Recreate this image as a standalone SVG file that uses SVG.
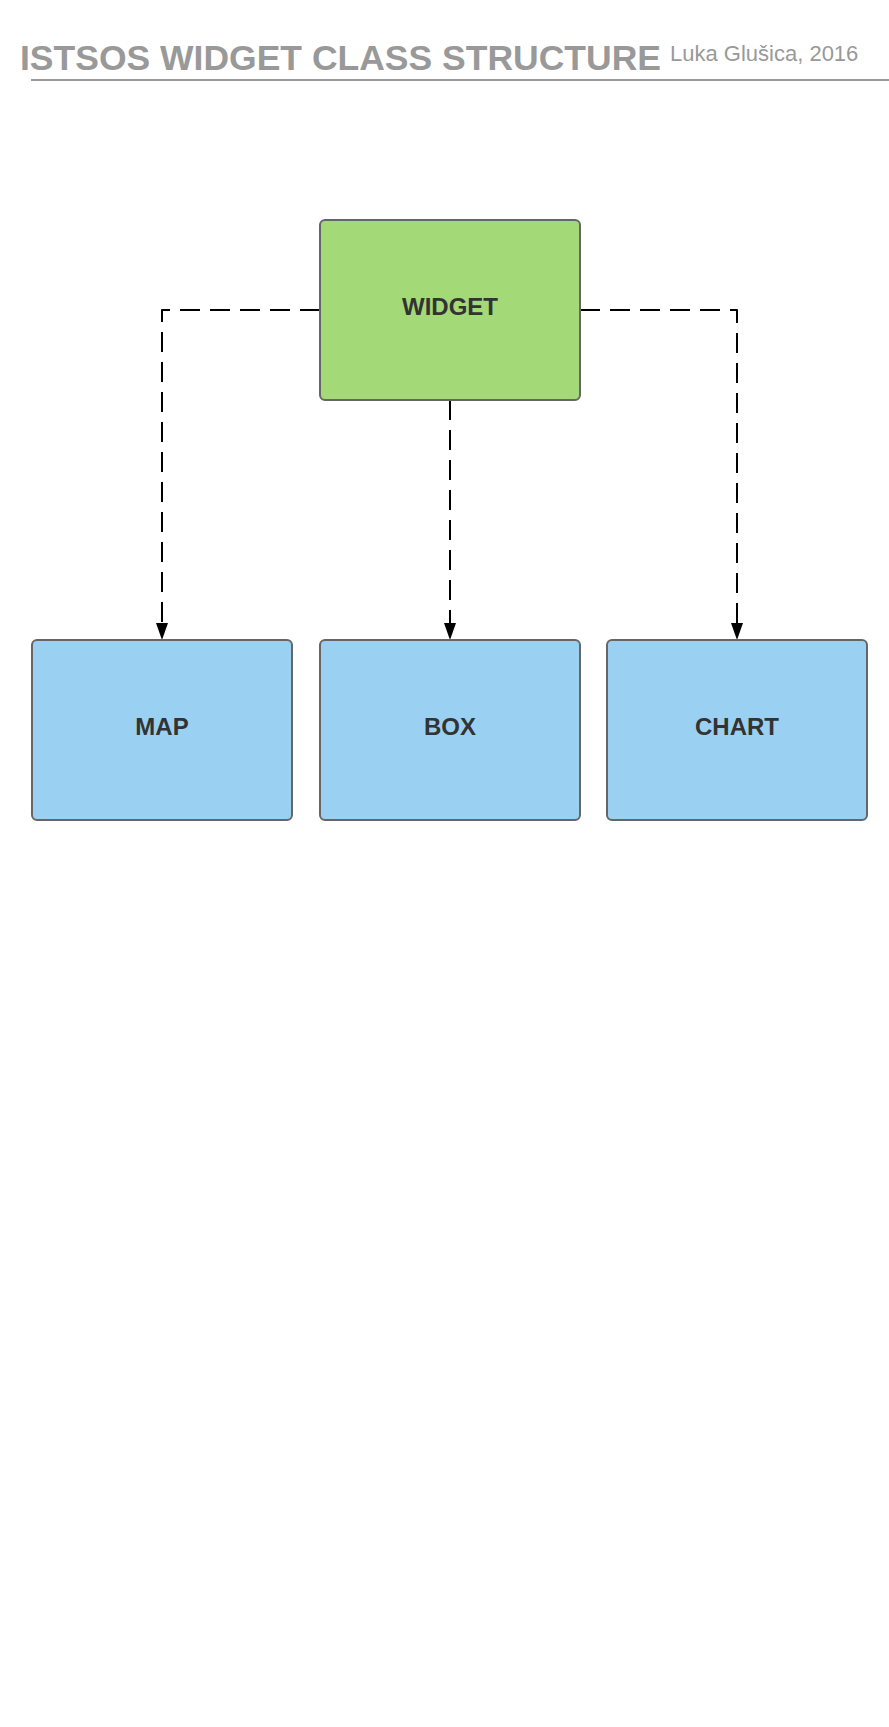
<svg xmlns="http://www.w3.org/2000/svg" width="889" height="1727" viewBox="0 0 889 1727">
<style>
.node rect{stroke:#666666;stroke-width:2}
.widget rect{fill:#a3d977}
.child rect{fill:#9ad1f2}
.label{font-family:"Liberation Sans",Arial,sans-serif;font-weight:bold;font-size:24px;fill:#333333;text-anchor:middle}
.conn{fill:none;stroke:#000000;stroke-width:2;stroke-dasharray:20 10;stroke-linejoin:round}
</style>
<rect x="0" y="0" width="889" height="1727" fill="#ffffff"/>
<g id="header">
<text x="20" y="70" font-family="'Liberation Sans',Arial,sans-serif" font-weight="bold" font-size="35.5" fill="#999999">ISTSOS WIDGET CLASS STRUCTURE</text>
<text x="670" y="61" font-family="'Liberation Sans',Arial,sans-serif" font-size="22" fill="#999999">Luka Glušica, 2016</text>
<line x1="31" y1="80" x2="889" y2="80" stroke="#999999" stroke-width="2"/>
</g>
<g id="connectors">
<path class="conn" d="M320,310 L162,310 L162,623"/>
<path class="conn" d="M450,400 L450,623"/>
<path class="conn" d="M580,310 L737,310 L737,623"/>
<path d="M156,623 L168,623 L162,640 Z" fill="#000000"/>
<path d="M444,623 L456,623 L450,640 Z" fill="#000000"/>
<path d="M731,623 L743,623 L737,640 Z" fill="#000000"/>
</g>
<g id="widget" class="node widget">
<rect x="320" y="220" width="260" height="180" rx="5"/>
<text class="label" x="450" y="315">WIDGET</text>
</g>
<g id="map" class="node child">
<rect x="32" y="640" width="260" height="180" rx="5"/>
<text class="label" x="162" y="735">MAP</text>
</g>
<g id="box" class="node child">
<rect x="320" y="640" width="260" height="180" rx="5"/>
<text class="label" x="450" y="735">BOX</text>
</g>
<g id="chart" class="node child">
<rect x="607" y="640" width="260" height="180" rx="5"/>
<text class="label" x="737" y="735">CHART</text>
</g>
</svg>
